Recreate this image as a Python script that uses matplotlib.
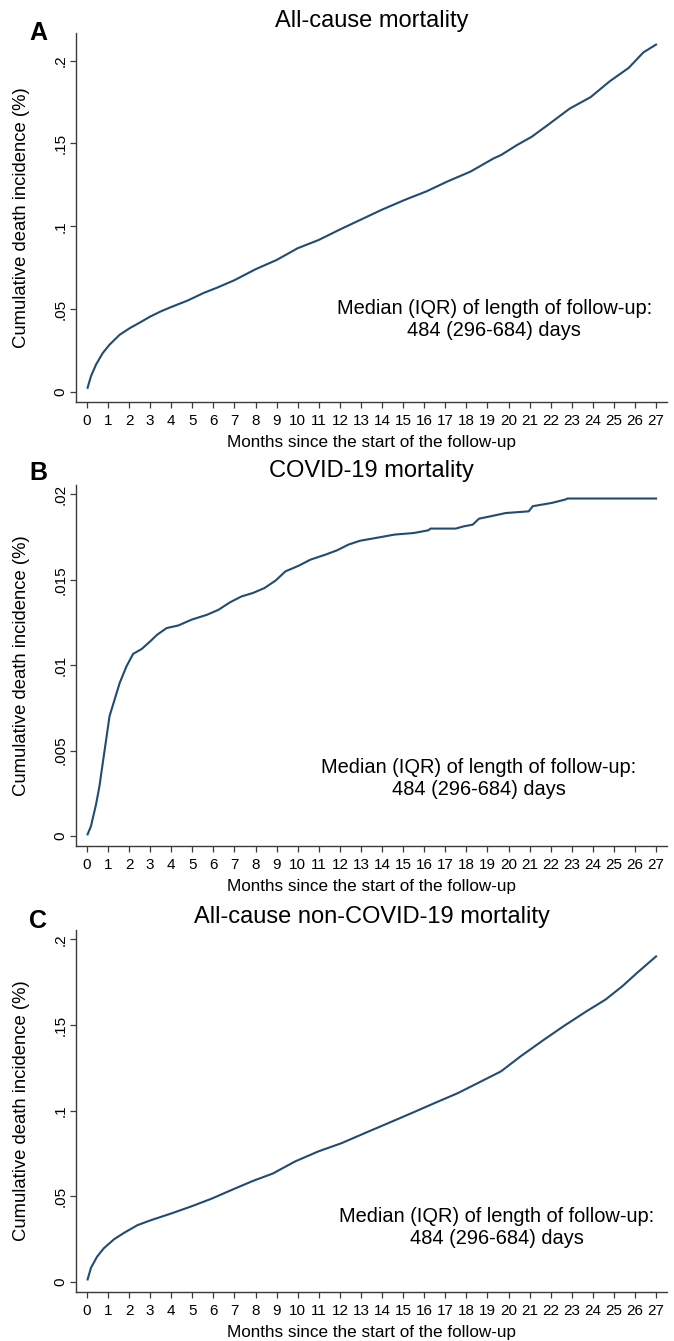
import matplotlib
matplotlib.use('Agg')
import matplotlib.pyplot as plt

plt.rcParams['font.family'] = ['Liberation Sans', 'DejaVu Sans']

# ---------------- data ----------------
month_ticks = list(range(28))

a_month = [0.03, 0.19, 0.43, 0.75, 1.07, 1.55, 2.03, 2.51, 3.0, 3.48, 3.96, 4.76, 5.56, 6.2, 7.0,
           8.0, 9.0, 10.0, 11.0, 12.0, 13.0, 14.0, 15.1, 16.1, 17.1, 18.2, 19.3, 19.65, 20.4, 21.1,
           21.85, 22.9, 23.9, 24.8, 25.7, 26.4, 27.0]
a_value = [0.0024, 0.0094, 0.0164, 0.0234, 0.0284, 0.0344, 0.0384, 0.0418, 0.0454, 0.0484, 0.051,
           0.055, 0.0598, 0.063, 0.0674, 0.074, 0.0796, 0.0867, 0.0917, 0.098, 0.104, 0.110, 0.116,
           0.121, 0.127, 0.133, 0.141, 0.143, 0.149, 0.154, 0.161, 0.171, 0.178, 0.1875, 0.1956,
           0.205, 0.2097]

b_month = [0.03, 0.19, 0.43, 0.59, 0.75, 0.91, 1.07, 1.31, 1.55, 1.87, 2.19, 2.59, 2.99, 3.33,
           3.78, 4.33, 4.96, 5.7, 6.24, 6.78, 7.33, 7.87, 8.42, 8.96, 9.42, 10.05, 10.6, 11.3,
           11.87, 12.4, 12.96, 13.7, 14.6, 15.5, 16.2, 16.3, 17.5, 17.87, 18.3, 18.6, 19.15,
           19.87, 20.96, 21.15, 22.05, 22.7, 22.8, 27.0]
b_value = [0.0001, 0.00058, 0.00185, 0.0029, 0.00428, 0.00564, 0.00701, 0.00798, 0.00895,
           0.00992, 0.01066, 0.01094, 0.01138, 0.01178, 0.01217, 0.01232, 0.01266, 0.01295,
           0.01324, 0.01367, 0.01402, 0.01422, 0.01451, 0.01496, 0.01549, 0.01582, 0.01617,
           0.01646, 0.01672, 0.01705, 0.01728, 0.01744, 0.01764, 0.01773, 0.01789, 0.01799,
           0.01799, 0.01812, 0.01822, 0.01857, 0.01871, 0.0189, 0.019, 0.0193, 0.01949,
           0.01969, 0.01975, 0.01975]

c_month = [0.03, 0.19, 0.48, 0.8, 1.28, 1.76, 2.4, 3.04, 4.0, 4.97, 5.93, 6.9, 7.86, 8.82, 9.87,
           10.98, 12.08, 13.19, 14.3, 15.4, 16.5, 17.6, 18.7, 19.65, 20.57, 21.68, 22.6, 23.7,
           24.6, 25.4, 26.1, 27.0]
c_value = [0.0016, 0.0084, 0.0149, 0.0198, 0.025, 0.0288, 0.0333, 0.0362, 0.0401, 0.0443,
           0.0488, 0.054, 0.059, 0.0634, 0.0704, 0.0763, 0.0811, 0.087, 0.0928, 0.0986, 0.1045,
           0.1103, 0.1171, 0.123, 0.1317, 0.1414, 0.1492, 0.158, 0.1648, 0.1726, 0.1804, 0.190]

ab_yticks = [0, 0.05, 0.1, 0.15, 0.2]
ab_ylabels = ['0', '.05', '.1', '.15', '.2']
b_yticks = [0, 0.005, 0.01, 0.015, 0.02]
b_ylabels = ['0', '.005', '.01', '.015', '.02']

titles = ['All-cause mortality', 'COVID-19 mortality', 'All-cause non-COVID-19 mortality']
letters = ['A', 'B', 'C']
note = 'Median (IQR) of length of follow-up:\n484 (296-684) days'
xlabel = 'Months since the start of the follow-up'
ylabel = 'Cumulative death incidence (%)'

# ---------------- layout ----------------
W, H = 674, 1341
fig = plt.figure(figsize=(W / 100, H / 100), dpi=100)


def fx(x):
    return x / W


def fy(y):
    return 1 - y / H


line_color = '#1f4b75'
axis_color = '#3a3a3a'

panels = [
    dict(rect=(76, 33, 667, 402), mon=a_month, val=a_value, yt=ab_yticks, yl=ab_ylabels,
         ylim=(-0.0062, 0.2167), note_xy=(19.32, 0.0439), title_y=27, letter_y=40),
    dict(rect=(76, 485, 667, 846), mon=b_month, val=b_value, yt=b_yticks, yl=b_ylabels,
         ylim=(-0.00058, 0.02054), note_xy=(18.6, 0.00334), title_y=477, letter_y=480),
    dict(rect=(76, 930, 667, 1292), mon=c_month, val=c_value, yt=ab_yticks, yl=ab_ylabels,
         ylim=(-0.0057, 0.2054), note_xy=(19.45, 0.0322), title_y=923, letter_y=928),
]

for i, p in enumerate(panels):
    l, t, r, b = p['rect']
    ax = fig.add_axes([fx(l), fy(b), fx(r) - fx(l), (b - t) / H])
    ax.plot(p['mon'], p['val'], color=line_color, lw=1.5, solid_joinstyle='round')
    ax.set_xlim(-0.52, 27.52)
    ax.set_ylim(*p['ylim'])
    ax.set_xticks(month_ticks)
    ax.set_xticklabels([str(m) for m in month_ticks])
    ax.set_yticks(p['yt'])
    ax.set_yticklabels(p['yl'], rotation=90, va='center')
    for s in ['top', 'right']:
        ax.spines[s].set_visible(False)
    for s in ['left', 'bottom']:
        ax.spines[s].set_color(axis_color)
        ax.spines[s].set_linewidth(1.0)
    ax.tick_params(axis='both', direction='out', length=4.3, width=0.9, color=axis_color,
                   labelsize=11, labelcolor='black')
    ax.tick_params(axis='x', pad=4.5)
    ax.tick_params(axis='y', pad=2)
    ax.text(p['note_xy'][0], p['note_xy'][1], note, ha='center', va='center',
            multialignment='center', fontsize=14.4, color='black')
    cx = (l + r) / 2
    fig.text(fx(cx), fy(p['title_y']), titles[i], ha='center', va='baseline', fontsize=17)
    fig.text(fx(29), fy(p['letter_y']), letters[i], ha='left', va='baseline', fontsize=18,
             fontweight='bold')
    fig.text(fx(cx), fy(b + 41), xlabel, ha='center', va='center', fontsize=12.3)
    fig.text(fx(22), fy((t + b) / 2), ylabel, ha='center', va='center', rotation=90,
             fontsize=13.3)

fig.savefig('out.png', dpi=100, facecolor='white')
